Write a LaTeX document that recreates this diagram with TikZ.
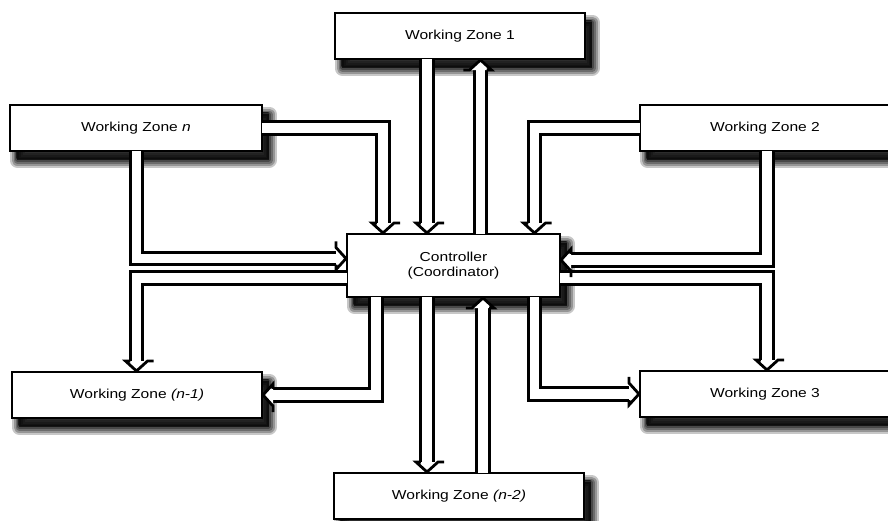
\documentclass[tikz,border=0pt]{standalone}
\usepackage{fontspec}
\setmainfont[FakeStretch=1.2]{Liberation Sans}
\usetikzlibrary{arrows.meta,shadows,decorations.markings}
\begin{document}
\begin{tikzpicture}[x=1pt,y=-1pt]
\tikzset{
  shl/.style={general shadow={fill=black, draw=black, opacity=#1, line join=round, shadow xshift=7pt, shadow yshift=-9pt}},
  softshadow/.style={
    general shadow={fill=black, draw=black, opacity=0.22, line width=15pt, line join=round, shadow xshift=7pt, shadow yshift=-9pt},
    general shadow={fill=black, draw=black, opacity=0.25, line width=11pt, line join=round, shadow xshift=7pt, shadow yshift=-9pt},
    general shadow={fill=black, draw=black, opacity=0.28, line width=7pt, line join=round, shadow xshift=7pt, shadow yshift=-9pt},
    general shadow={fill=black, draw=black, opacity=0.32, line width=3.5pt, line join=round, shadow xshift=7pt, shadow yshift=-9pt},
    general shadow={fill=black, draw=black, opacity=0.4, line width=0.5pt, line join=round, shadow xshift=6pt, shadow yshift=-7pt}},
  zone/.style={draw=black, line width=2.6pt, fill=white, anchor=north west,
    inner sep=0pt, outer sep=0pt, minimum width=250pt, minimum height=46pt,
    font=\fontsize{13}{15.5}\selectfont, align=center, softshadow},
  harrow/.style={draw=black, double=white, line width=2.8pt, double distance=9.5pt,
    line join=miter, shorten >=11pt,
    postaction={decorate, decoration={markings, mark=at position 1 with {
      \fill[white] (-11pt,-11pt) -- (0pt,0pt) -- (-11pt,11pt) -- cycle;
      \draw[black, line width=2.8pt, line join=miter, miter limit=10]
        (-11pt,-6.15pt) -- (-11pt,-11pt) -- (-1pt,0pt) -- (-11pt,11pt) -- (-11pt,6.15pt);
    }}}}
}
\useasboundingbox (0,0) rectangle (888,520);
% boxes
\node[zone] (wz1) at (335,13) {Working Zone 1};
\node[zone, minimum width=252pt] (wzn) at (10,105) {Working Zone \textit{n}};
\node[zone] (wz2) at (640,105) {Working Zone 2};
\node[zone, minimum width=213pt, minimum height=63pt] (ctrl) at (347,234) {Controller\\(Coordinator)};
\node[zone] (wzm1) at (12,372) {Working Zone \textit{(n-1)}};
\node[zone] (wz3) at (640,371) {Working Zone 3};
\node[zone] (wzm2) at (334,473) {Working Zone \textit{(n-2)}};
% column and row guides
\coordinate (cA) at (136.5,0);
\coordinate (cB) at (383,0);
\coordinate (cB2) at (376,0);
\coordinate (cC) at (427,0);
\coordinate (cD) at (480.5,0);
\coordinate (cD2) at (483,0);
\coordinate (cE) at (534.5,0);
\coordinate (cF) at (767,0);
\coordinate (rA) at (0,128);
\coordinate (rB) at (0,258.5);
\coordinate (rB2) at (0,260);
\coordinate (rC) at (0,278);
\coordinate (rD) at (0,395);
\coordinate (rD2) at (0,394);
% connectors
\draw[harrow] (wz1.south -| cC) -- (ctrl.north -| cC);
\draw[harrow] (ctrl.north -| cD) -- (wz1.south -| cD);
\draw[harrow] (wzn.east |- rA) -| (ctrl.north -| cB);
\draw[harrow] (wzn.south -| cA) |- (ctrl.west |- rB);
\draw[harrow] (ctrl.west |- rC) -| (wzm1.north -| cA);
\draw[harrow] (ctrl.south -| cB2) |- (wzm1.east |- rD);
\draw[harrow] (ctrl.south -| cC) -- (wzm2.north -| cC);
\draw[harrow] (wzm2.north -| cD2) -- (ctrl.south -| cD2);
\draw[harrow] (ctrl.south -| cE) |- (wz3.west |- rD2);
\draw[harrow] (ctrl.east |- rC) -| (wz3.north -| cF);
\draw[harrow] (wz2.south -| cF) |- (ctrl.east |- rB2);
\draw[harrow] (wz2.west |- rA) -| (ctrl.north -| cE);
\end{tikzpicture}
\end{document}
